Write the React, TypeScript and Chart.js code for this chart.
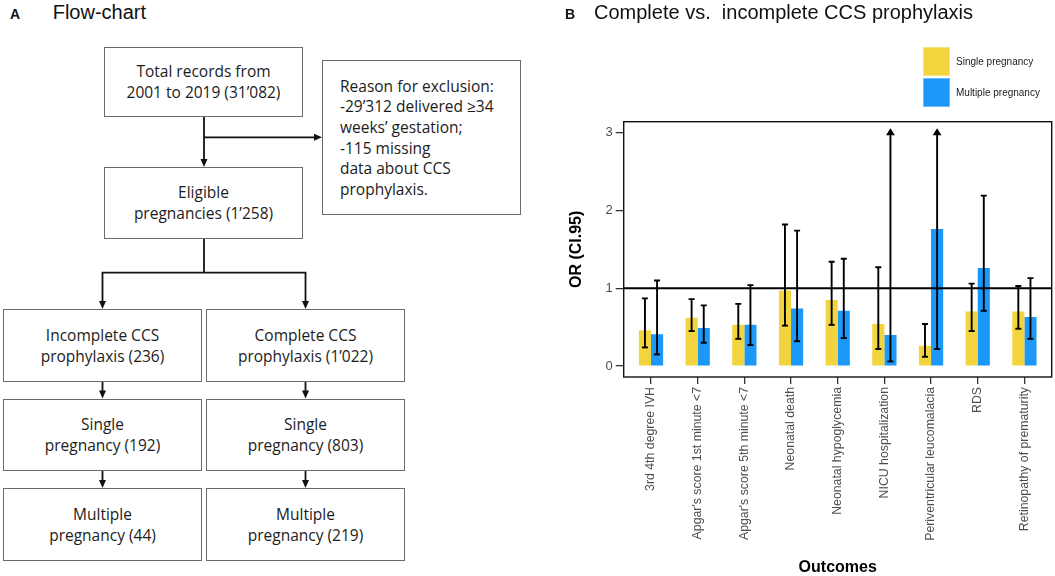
import React, { useEffect, useRef } from "react";
import { Chart, registerables } from "chart.js";

Chart.register(...registerables);

// ---------- Panel B data ----------
const categories = [
  "3rd 4th degree IVH",
  "Apgar's score 1st minute <7",
  "Apgar's score 5th minute <7",
  "Neonatal death",
  "Neonatal hypoglycemia",
  "NICU hospitalization",
  "Periventricular leucomalacia",
  "RDS",
  "Retinopathy of prematurity",
];
const seriesNames = ["Single pregnancy", "Multiple pregnancy"];
const singleOR = [0.46, 0.62, 0.53, 0.97, 0.85, 0.54, 0.26, 0.7, 0.7];
const singleLow = [0.24, 0.45, 0.35, 0.52, 0.53, 0.22, 0.12, 0.45, 0.48];
const singleHigh = [0.87, 0.86, 0.8, 1.82, 1.34, 1.27, 0.54, 1.06, 1.03];
const multipleOR = [0.41, 0.49, 0.53, 0.74, 0.71, 0.4, 1.76, 1.26, 0.63];
const multipleLow = [0.15, 0.3, 0.27, 0.32, 0.36, 0.06, 0.22, 0.71, 0.35];
// null = upper limit beyond the axis (drawn as an arrow)
const multipleHigh: (number | null)[] = [1.1, 0.78, 1.04, 1.74, 1.38, null, null, 2.19, 1.13];
const yTicks = [0, 1, 2, 3];
const yMin = -0.14;
const yMax = 3.14;
const refLine = 1;
const arrowTip = 3.055;

// ---------- Panel A text ----------
const totalLines = ["Total records from", "2001 to 2019 (31\u2019082)"];
const exclusionLines = [
  "Reason for exclusion:",
  "-29\u2019312 delivered \u226534",
  "weeks\u2019 gestation;",
  "-115 missing",
  "data about CCS",
  "prophylaxis.",
];
const eligibleLines = ["Eligible", "pregnancies (1\u2019258)"];
const incompleteLines = ["Incomplete CCS", "prophylaxis (236)"];
const completeLines = ["Complete CCS", "prophylaxis (1\u2019022)"];
const incSingleLines = ["Single", "pregnancy (192)"];
const compSingleLines = ["Single", "pregnancy (803)"];
const incMultipleLines = ["Multiple", "pregnancy (44)"];
const compMultipleLines = ["Multiple", "pregnancy (219)"];

const YELLOW = "#F2D53E";
const BLUE = "#1B98F8";
const SANS = "'Liberation Sans', Arial, Helvetica, sans-serif";
const FLOW_FONT = "'Open Sans', 'Noto Sans', sans-serif";

function Box(props: {
  left: number;
  top: number;
  w: number;
  h: number;
  lines: string[];
  leftAlign?: boolean;
}) {
  const { left, top, w, h, lines, leftAlign } = props;
  return (
    <div
      style={{
        position: "absolute",
        left,
        top,
        width: w,
        height: h,
        boxSizing: "border-box",
        border: "1.2px solid #6b6b6b",
        display: "flex",
        flexDirection: "column",
        justifyContent: "center",
        alignItems: leftAlign ? "flex-start" : "center",
        textAlign: leftAlign ? "left" : "center",
        paddingLeft: leftAlign ? 17 : 0,
        fontFamily: FLOW_FONT,
        fontSize: 15.5,
        lineHeight: "20.6px",
        color: "#1c1c1c",
        whiteSpace: "nowrap",
        background: "#fff",
      }}
    >
      {lines.map((l, i) => (
        <div key={i}>{l}</div>
      ))}
    </div>
  );
}

function arrowDown(x: number, y1: number, y2: number, key: string) {
  const hh = 8;
  const hw = 3.5;
  return (
    <g key={key}>
      <line x1={x} y1={y1} x2={x} y2={y2 - hh + 1} stroke="#111" strokeWidth={1.8} />
      <polygon points={`${x - hw},${y2 - hh} ${x + hw},${y2 - hh} ${x},${y2}`} fill="#111" />
    </g>
  );
}

function arrowRight(y: number, x1: number, x2: number, key: string) {
  const hh = 8;
  const hw = 3.5;
  return (
    <g key={key}>
      <line x1={x1} y1={y} x2={x2 - hh + 1} y2={y} stroke="#111" strokeWidth={1.8} />
      <polygon points={`${x2 - hh},${y - hw} ${x2 - hh},${y + hw} ${x2},${y}`} fill="#111" />
    </g>
  );
}

function FlowChart() {
  const L = 102.5;
  const R = 305.5;
  return (
    <div style={{ position: "absolute", left: 0, top: 0, width: 520, height: 576 }}>
      <div
        style={{
          position: "absolute",
          left: 10,
          top: 0,
          display: "flex",
          alignItems: "baseline",
          fontFamily: SANS,
          color: "#111",
          lineHeight: "24px",
        }}
      >
        <span style={{ fontWeight: "bold", fontSize: 14, width: 42.7 }}>A</span>
        <span style={{ fontSize: 20 }}>Flow-chart</span>
      </div>
      <svg
        width={520}
        height={576}
        style={{ position: "absolute", left: 0, top: 0 }}
      >
        {arrowDown(204, 117, 167, "a1")}
        {arrowRight(137.3, 204, 322, "a2")}
        <line x1={204} y1={239} x2={204} y2={272.7} stroke="#111" strokeWidth={1.8} />
        <line x1={L - 0.9} y1={272.7} x2={R + 0.9} y2={272.7} stroke="#111" strokeWidth={1.8} />
        {arrowDown(L, 272.7, 309, "a3")}
        {arrowDown(R, 272.7, 309, "a4")}
        {arrowDown(L, 382, 398.5, "a5")}
        {arrowDown(R, 382, 398.5, "a6")}
        {arrowDown(L, 471, 488, "a7")}
        {arrowDown(R, 471, 488, "a8")}
      </svg>
      <Box left={104} top={47} w={199} h={70} lines={totalLines} />
      <Box left={322} top={60} w={199} h={155} lines={exclusionLines} leftAlign />
      <Box left={104} top={167} w={199} h={72} lines={eligibleLines} />
      <Box left={3} top={309} w={199} h={73} lines={incompleteLines} />
      <Box left={206} top={309} w={199} h={73} lines={completeLines} />
      <Box left={3} top={398.5} w={199} h={72.5} lines={incSingleLines} />
      <Box left={206} top={398.5} w={199} h={72.5} lines={compSingleLines} />
      <Box left={3} top={488} w={199} h={73} lines={incMultipleLines} />
      <Box left={206} top={488} w={199} h={73} lines={compMultipleLines} />
    </div>
  );
}

const overlayPlugin = {
  id: "overlay",
  afterDatasetsDraw(chart: any) {
    const { ctx, chartArea: a, scales } = chart;
    const y = scales.y;
    ctx.save();
    // reference line at OR = 1
    const yr = y.getPixelForValue(refLine);
    ctx.strokeStyle = "#000";
    ctx.lineWidth = 2;
    ctx.beginPath();
    ctx.moveTo(a.left, yr);
    ctx.lineTo(a.right, yr);
    ctx.stroke();
    // error bars
    chart.data.datasets.forEach((ds: any, di: number) => {
      const meta = chart.getDatasetMeta(di);
      meta.data.forEach((bar: any, i: number) => {
        const x = bar.x;
        const lo = ds.errLow[i];
        const hi = ds.errHigh[i];
        const yl = y.getPixelForValue(lo);
        const cap = 3;
        ctx.strokeStyle = "#000";
        ctx.fillStyle = "#000";
        ctx.lineWidth = 1.9;
        if (hi === null || hi === undefined) {
          const yt = y.getPixelForValue(arrowTip);
          const hh = 7;
          const hw = 4.4;
          ctx.beginPath();
          ctx.moveTo(x, yl);
          ctx.lineTo(x, yt + hh - 1);
          ctx.stroke();
          ctx.beginPath();
          ctx.moveTo(x - hw, yt + hh);
          ctx.lineTo(x + hw, yt + hh);
          ctx.lineTo(x, yt);
          ctx.closePath();
          ctx.fill();
        } else {
          const yh = y.getPixelForValue(hi);
          ctx.beginPath();
          ctx.moveTo(x, yl);
          ctx.lineTo(x, yh);
          ctx.moveTo(x - cap, yh);
          ctx.lineTo(x + cap, yh);
          ctx.stroke();
        }
        ctx.beginPath();
        ctx.moveTo(x - cap, yl);
        ctx.lineTo(x + cap, yl);
        ctx.stroke();
      });
    });
    // panel frame
    ctx.lineWidth = 1.4;
    ctx.strokeStyle = "#111";
    ctx.strokeRect(a.left, a.top, a.right - a.left, a.bottom - a.top);
    ctx.restore();
  },
};

function ORChart() {
  const ref = useRef<HTMLCanvasElement>(null);
  useEffect(() => {
    if (!ref.current) return;
    Chart.defaults.font.family = SANS;
    const chart = new Chart(ref.current, {
      type: "bar",
      data: {
        datasets: [
          {
            label: seriesNames[0],
            data: singleOR.map((v, i) => ({ x: i, y: v })),
            backgroundColor: YELLOW,
            borderWidth: 0,
            errLow: singleLow,
            errHigh: singleHigh,
          } as any,
          {
            label: seriesNames[1],
            data: multipleOR.map((v, i) => ({ x: i, y: v })),
            backgroundColor: BLUE,
            borderWidth: 0,
            errLow: multipleLow,
            errHigh: multipleHigh,
          } as any,
        ],
      },
      options: {
        animation: false,
        responsive: false,
        maintainAspectRatio: false,
        categoryPercentage: 0.52,
        barPercentage: 1,
        layout: { padding: { top: 121.7, right: 3.3, left: 0, bottom: 0 } },
        plugins: {
          legend: { display: false },
          tooltip: { enabled: false },
          title: { display: false },
        },
        scales: {
          x: {
            type: "linear",
            min: -0.585,
            max: 8.585,
            offset: false,
            afterBuildTicks: (s: any) => {
              s.ticks = categories.map((_, i) => ({ value: i }));
            },
            afterFit: (s: any) => {
              s.height = 199;
            },
            ticks: {
              autoSkip: false,
              minRotation: 90,
              maxRotation: 90,
              padding: 3,
              color: "#4d4d4d",
              font: { size: 12.3, family: SANS },
              callback: (v: any) => categories[Math.round(Number(v))] ?? "",
            },
            grid: {
              offset: false,
              drawOnChartArea: false,
              drawTicks: true,
              tickLength: 7,
              color: "#333",
              lineWidth: 1.3,
            },
            border: { display: false },
            title: {
              display: true,
              text: "Outcomes",
              color: "#000",
              font: { size: 16, weight: "bold", family: SANS, lineHeight: 1 },
              padding: { top: 0, bottom: 0 },
            },
          } as any,
          y: {
            type: "linear",
            min: yMin,
            max: yMax,
            afterBuildTicks: (s: any) => {
              s.ticks = yTicks.map((v) => ({ value: v }));
            },
            afterFit: (s: any) => {
              s.width = 103.7;
            },
            ticks: {
              color: "#4d4d4d",
              padding: 3,
              font: { size: 13, family: SANS },
              callback: (v: any) => String(v),
            },
            grid: {
              drawOnChartArea: false,
              drawTicks: true,
              tickLength: 8,
              color: "#333",
              lineWidth: 1.3,
            },
            border: { display: false },
            title: {
              display: true,
              text: "OR (CI.95)",
              color: "#000",
              font: { size: 16, weight: "bold", family: SANS, lineHeight: 1 },
              padding: { top: 48.7, bottom: 0 },
            },
          } as any,
        },
      },
      plugins: [overlayPlugin],
    });
    return () => chart.destroy();
  }, []);
  return (
    <canvas
      ref={ref}
      width={535}
      height={576}
      style={{ position: "absolute", left: 520, top: 0, width: 535, height: 576 }}
    />
  );
}

function Legend() {
  const colors = [YELLOW, BLUE];
  const tops = [47, 78];
  return (
    <>
      {seriesNames.map((n, i) => (
        <React.Fragment key={n}>
          <div
            style={{
              position: "absolute",
              left: 923,
              top: tops[i],
              width: 27,
              height: 29,
              boxSizing: "border-box",
              background: colors[i],
              border: "1px solid rgba(255,255,255,0.35)",
            }}
          />
          <div
            style={{
              position: "absolute",
              left: 956,
              top: tops[i],
              height: 29,
              lineHeight: "29px",
              fontFamily: SANS,
              fontSize: 10,
              color: "#1a1a1a",
              whiteSpace: "nowrap",
            }}
          >
            {n}
          </div>
        </React.Fragment>
      ))}
    </>
  );
}

export default function App() {
  return (
    <div
      style={{
        position: "relative",
        width: 1055,
        height: 576,
        overflow: "hidden",
        background: "#fff",
      }}
    >
      <style>{"body{margin:0;background:#fff}"}</style>
      <FlowChart />
      <ORChart />
      <div
        style={{
          position: "absolute",
          left: 565,
          top: 0,
          display: "flex",
          alignItems: "baseline",
          fontFamily: SANS,
          color: "#111",
          lineHeight: "24px",
        }}
      >
        <span style={{ fontWeight: "bold", fontSize: 14, width: 29 }}>B</span>
        <span style={{ fontSize: 20 }}>Complete vs.&nbsp; incomplete CCS prophylaxis</span>
      </div>
      <Legend />
    </div>
  );
}
